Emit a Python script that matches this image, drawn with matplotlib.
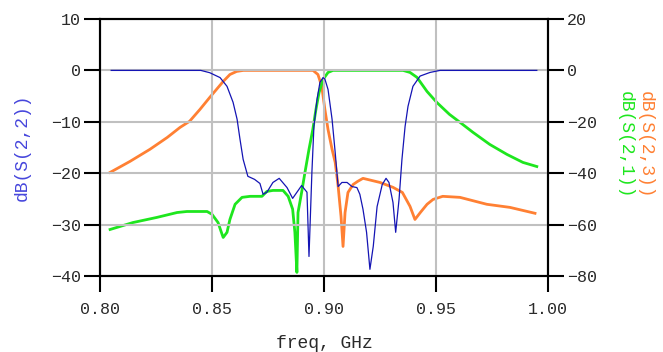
import matplotlib
matplotlib.use('Agg')
import matplotlib.pyplot as plt
from matplotlib.ticker import FormatStrFormatter

plt.rcParams['font.family'] = ['Liberation Mono', 'DejaVu Sans Mono']

# ---- data ----
freq_s22 = [0.805, 0.845, 0.849, 0.8536, 0.8567, 0.8594, 0.8612, 0.8625, 0.8639, 0.866,
            0.8690, 0.8714, 0.8728, 0.8745, 0.8772, 0.880, 0.8835, 0.886, 0.890, 0.8924,
            0.8933, 0.8946, 0.8955, 0.8969, 0.8982, 0.8996, 0.9004, 0.9018, 0.9036, 0.905,
            0.9063, 0.908, 0.9103, 0.9125, 0.9147, 0.916, 0.9174, 0.919, 0.9205, 0.922,
            0.9237, 0.926, 0.9277, 0.929, 0.9308, 0.932, 0.9335, 0.9348, 0.9362, 0.9375,
            0.9397, 0.9429, 0.9473, 0.9518, 0.995]
s22 = [0.0, 0.0, -0.45, -1.4, -3.1, -6.2, -9.5, -13.4, -17.3, -20.6,
       -21.2, -22.0, -24.1, -23.7, -21.8, -21.0, -22.8, -24.9, -22.4, -23.7,
       -36.2, -19.8, -10.9, -5.6, -2.3, -1.4, -1.7, -3.7, -9.5, -16.0,
       -22.6, -21.8, -21.8, -22.6, -22.8, -24.1, -27.0, -31.5, -38.7, -34.2,
       -26.5, -22.2, -21.0, -21.8, -25.7, -31.5, -25.1, -17.3, -10.9, -7.0,
       -3.1, -1.1, -0.4, 0.0, 0.0]

freq_s23 = [0.8045, 0.8134, 0.8223, 0.830, 0.8357, 0.840, 0.8446, 0.849, 0.852, 0.855,
            0.858, 0.861, 0.864, 0.8951, 0.8973, 0.899, 0.9004, 0.9018, 0.9036, 0.905,
            0.9063, 0.9076, 0.9085, 0.9094, 0.9107, 0.913, 0.915, 0.9174, 0.925, 0.9308,
            0.935, 0.9384, 0.9406, 0.943, 0.946, 0.9487, 0.953, 0.9607, 0.9727, 0.983,
            0.9942]
s23 = [-39.7, -35.4, -30.7, -26.1, -22.2, -19.8, -15.2, -10.5, -7.4, -4.3,
       -1.6, -0.4, 0.0, 0.0, -1.6, -6.2, -15.2, -23.0, -30.7, -35.8,
       -45.0, -56.8, -68.5, -55.3, -47.5, -44.4, -43.2, -42.0, -43.6, -45.5,
       -47.5, -52.9, -58.0, -55.3, -52.1, -50.2, -49.0, -49.4, -52.1, -53.3,
       -55.6]

freq_s21 = [0.8045, 0.8147, 0.8254, 0.8344, 0.8388, 0.8478, 0.850, 0.8527, 0.8545, 0.855,
            0.8567, 0.858, 0.8603, 0.8634, 0.867, 0.8723, 0.8745, 0.8772, 0.8817, 0.884,
            0.886, 0.887, 0.8879, 0.8884, 0.890, 0.8915, 0.8933, 0.895, 0.8964, 0.8978,
            0.8996, 0.9018, 0.904, 0.9353, 0.9384, 0.9415, 0.946, 0.9504, 0.956, 0.9607,
            0.9665, 0.974, 0.9817, 0.9888, 0.995]
s21 = [-61.9, -59.2, -57.2, -55.3, -54.9, -54.9, -56.0, -59.2, -63.8, -65.0,
       -63.0, -58.0, -52.1, -49.4, -49.0, -49.0, -47.1, -46.7, -46.7, -49.0,
       -54.0, -63.0, -78.6, -55.3, -47.5, -39.7, -30.7, -23.0, -15.2, -8.6,
       -3.5, -0.8, 0.0, 0.0, -0.8, -2.7, -8.2, -12.5, -17.1, -20.2,
       -24.1, -28.8, -32.7, -35.8, -37.4]

xticks = [0.80, 0.85, 0.90, 0.95, 1.00]
yticks_left = [-40, -30, -20, -10, 0, 10]
yticks_right = [-80, -60, -40, -20, 0, 20]

blue_line = '#1414b4'
blue_text = '#4646dc'
orange = '#ff8033'
green = '#1ee61e'
tick_text = '#2a2a2a'
grid_col = '#c0c0c0'

fig = plt.figure(figsize=(6.63, 3.52), dpi=100)
ax = fig.add_axes([100 / 663, 1 - 276 / 352, 448 / 663, 257 / 352])
ax2 = ax.twinx()

ax.set_xlim(0.80, 1.00)
ax.set_ylim(-40, 10)
ax2.set_ylim(-80, 20)
ax.set_xticks(xticks)
ax.set_yticks(yticks_left)
ax2.set_yticks(yticks_right)
ax.xaxis.set_major_formatter(FormatStrFormatter('%.2f'))

ax.grid(True, color=grid_col, linewidth=1.5)
ax.set_axisbelow(True)

ax2.plot(freq_s23, s23, color=orange, linewidth=2.0, zorder=3)
ax2.plot(freq_s21, s21, color=green, linewidth=2.0, zorder=3)
ax2.plot([], [])
# blue on the left axis, draw via ax but keep above ax2 by putting ax on top
ax.plot(freq_s22, s22, color=blue_line, linewidth=0.9, zorder=4)
ax.set_zorder(ax2.get_zorder() + 1)
ax.patch.set_visible(False)

for a in (ax, ax2):
    for s in a.spines.values():
        s.set_color('black')
        s.set_linewidth(1.5)

ax.tick_params(axis='y', direction='out', length=11.5, width=1.5, colors='black',
               labelcolor=tick_text, labelsize=12, pad=2, right=False)
ax.tick_params(axis='x', direction='out', length=11.5, width=1.5, colors='black',
               labelcolor=tick_text, labelsize=12, pad=7, top=False)
ax2.tick_params(axis='y', direction='out', length=11.5, width=1.5, colors='black',
                labelcolor=tick_text, labelsize=12, pad=2)

ax.set_xlabel('freq, GHz', fontsize=13, color=tick_text)
ax.xaxis.set_label_coords(0.5, (276 - 344) / 257)
ax.xaxis.label.set_va('center')

ax.set_ylabel('dB(S(2,2))', fontsize=13, color=blue_text)
ax.yaxis.set_label_coords(-0.174, 0.5)
ax.yaxis.label.set_va('center')

ax.text(1.2165, 0.51, 'dB(S(2,3))', rotation=-90, ha='center', va='center',
        transform=ax.transAxes, color=orange, fontsize=13)
ax.text(1.172, 0.51, 'dB(S(2,1))', rotation=-90, ha='center', va='center',
        transform=ax.transAxes, color=green, fontsize=13)

fig.savefig('out.png', dpi=100)
